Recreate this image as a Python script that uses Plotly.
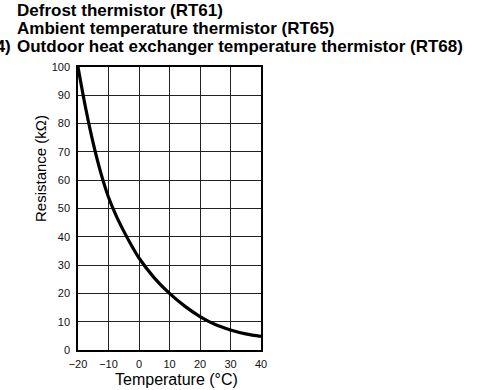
import plotly.graph_objects as go

# Resistance vs. temperature characteristic of the outdoor thermistors
temperature_c = [-20, -17.5, -15, -12.5, -10, -7.5, -5, -2.5, 0, 5, 10, 15, 20, 25, 30, 35, 40]
resistance_kohm = [100, 85.5, 73, 62.5, 54, 47.5, 42, 37, 32.5, 25.5, 20, 15.5, 11.8, 9, 7.1, 5.7, 4.8]

x_ticks = [-20, -10, 0, 10, 20, 30, 40]
y_ticks = [0, 10, 20, 30, 40, 50, 60, 70, 80, 90, 100]

title_lines = [
    "Defrost thermistor (RT61)",
    "Ambient temperature thermistor (RT65)",
    "Outdoor heat exchanger temperature thermistor (RT68)",
]

FONT = "Liberation Sans, Arial, sans-serif"
W, H = 477, 390
L, R, T, B = 78, 216, 67, 40
plot_w = W - L - R
plot_h = H - T - B


def px_x(px):
    return (px - L) / plot_w


def px_y(py):
    return (H - B - py) / plot_h


fig = go.Figure()
fig.add_trace(go.Scatter(
    x=temperature_c, y=resistance_kohm, mode="lines",
    line=dict(color="black", width=3.2, shape="spline", smoothing=1.0),
    showlegend=False, hoverinfo="skip",
))

axis_common = dict(
    showgrid=True, gridcolor="#222", gridwidth=1,
    showline=True, linecolor="black", linewidth=1.5, mirror=True,
    zeroline=False, ticks="", tickfont=dict(family=FONT, size=11, color="#111"),
)

fig.update_xaxes(range=[-20, 40], tickvals=x_ticks, ticklabelstandoff=3, **axis_common)
fig.update_yaxes(range=[0, 100], tickvals=y_ticks, ticklabelstandoff=4, **axis_common)

annotations = []
for i, line in enumerate(title_lines):
    py = 11 + 18 * i
    annotations.append(dict(
        text=f"<b>{line}</b>", xref="paper", yref="paper",
        x=px_x(15.5), y=px_y(py),
        xanchor="left", yanchor="middle", showarrow=False, borderpad=0,
        font=dict(family=FONT, size=17, color="black"),
    ))
# section number, partly cut off by the left page edge
annotations.append(dict(
    text="<b>(4)</b>", xref="paper", yref="paper",
    x=px_x(12), y=px_y(11 + 36),
    xanchor="right", yanchor="middle", showarrow=False, borderpad=0,
    font=dict(family=FONT, size=17, color="black"),
))
# axis titles
annotations.append(dict(
    text="Temperature (°C)", xref="paper", yref="paper",
    x=px_x(176.5), y=px_y(379),
    xanchor="center", yanchor="middle", showarrow=False,
    font=dict(family=FONT, size=16, color="black"),
))
annotations.append(dict(
    text="Resistance (kΩ)", xref="paper", yref="paper",
    x=px_x(40), y=px_y(169), textangle=-90,
    xanchor="center", yanchor="middle", showarrow=False,
    font=dict(family=FONT, size=15, color="black"),
))

fig.update_layout(
    width=W, height=H,
    margin=dict(l=L, r=R, t=T, b=B),
    paper_bgcolor="white", plot_bgcolor="white",
    annotations=annotations,
)

fig.write_html("out.html")
